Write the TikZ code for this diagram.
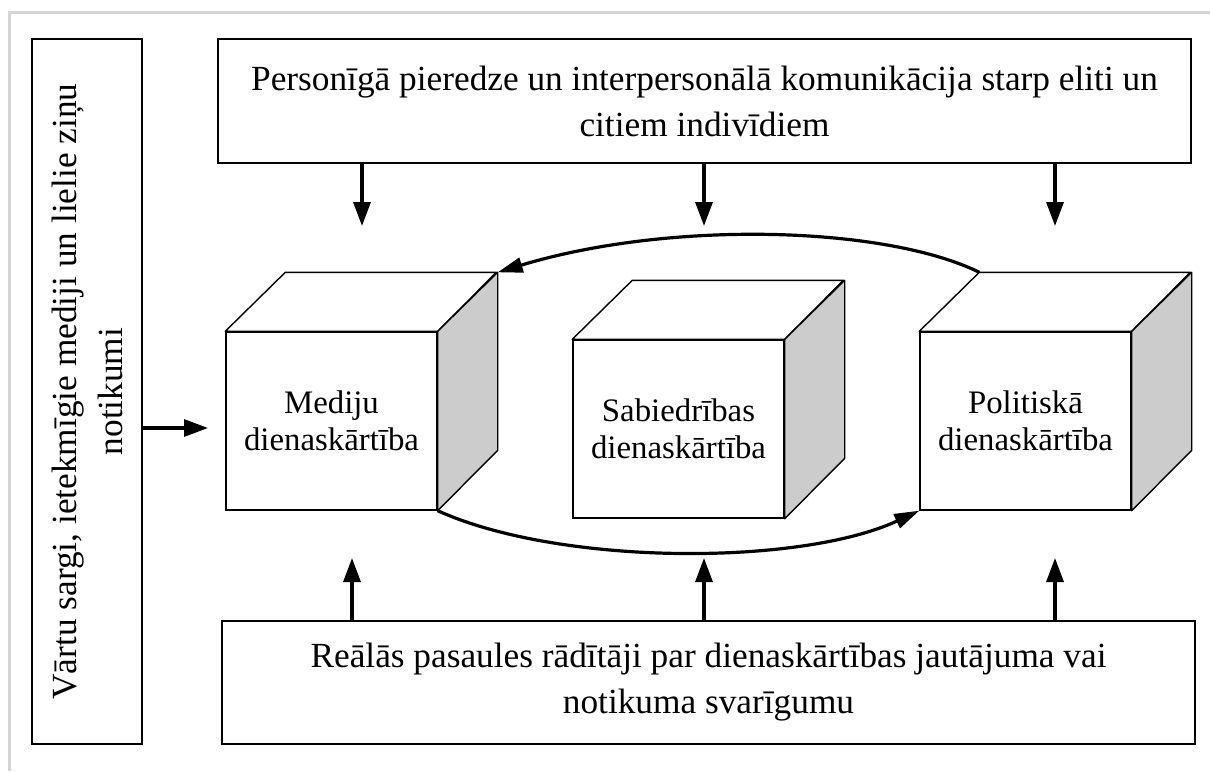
\documentclass[tikz,border=0pt]{standalone}
\usepackage{fontspec}
\setmainfont{Liberation Serif}
\usetikzlibrary{arrows.meta,calc}
\definecolor{sidegray}{HTML}{CCCCCC}
\definecolor{framegray}{HTML}{D4D4D4}
\tikzset{
  boxstyle/.style={draw, line width=1.7pt, inner sep=0pt, align=center,
    font=\fontsize{35.3}{46}\selectfont},
  face/.style={draw, line width=1.4pt, fill=white, minimum width=211pt,
    minimum height=178pt, inner sep=0pt, align=center,
    font=\fontsize{32.8}{37.5}\selectfont},
  topface/.style={draw, line width=1.4pt, fill=white, line join=round},
  sideface/.style={draw, line width=1.4pt, fill=sidegray, line join=round},
  arr/.style={line width=3.2pt, -{Triangle[length=24pt,width=17pt]}},
  curvearr/.style={line width=3.2pt, -{Triangle[length=25pt,width=15pt]}},
}
\begin{document}
\begin{tikzpicture}[x=1pt,y=-1pt]
\useasboundingbox (0,0) rectangle (1210,771);
% page frame
\draw[framegray, line width=3pt] (9,771) -- (9,12) -- (1210,12);

% boxes
\node[boxstyle, minimum width=973pt, minimum height=124pt] (top) at (704.5,101)
  {Personīgā pieredze un interpersonālā komunikācija starp eliti un\\citiem indivīdiem};
\node[boxstyle, minimum width=973pt, minimum height=123pt] (bottom) at (708.5,682.5)
  {Reālās pasaules rādītāji par dienaskārtības jautājuma vai\\notikuma svarīgumu};
\node[draw, line width=1.7pt, minimum width=110pt, minimum height=705pt, inner sep=0pt] (gate) at (87,391.5) {};
\node[rotate=90, align=center, inner sep=0pt, font=\fontsize{35.3}{46}\selectfont] (gatetext) at (gate.center)
  {Vārtu sargi, ietekmīgie mediji un lielie ziņu\\notikumi};

% cubes
\newcommand{\drawcube}[4]{%
  \node[face] (#1) at (#2,#3) {#4};
  \draw[topface] (#1.north west) -- ++(60,-59) -- ++(211,0) -- (#1.north east) -- cycle;
  \draw[sideface] (#1.north east) -- ++(60,-59) -- ++(0,178) -- (#1.south east) -- cycle;
}
\drawcube{med}{331.5}{421}{Mediju\\dienaskārtība}
\drawcube{soc}{678.5}{429}{Sabiedrības\\dienaskārtība}
\drawcube{pol}{1025.5}{421}{Politiskā\\dienaskārtība}

% corner coordinates
\coordinate (medbtr) at ($(med.north east)+(60,-59)$);
\coordinate (polbtl) at ($(pol.north west)+(60,-59)$);

% curves
\draw[curvearr] (polbtl) .. controls (885,226) and (670,220) .. (medbtr);
\draw[curvearr] (med.south east) .. controls (560,566) and (800,566) .. (pol.south west);

% arrows from top box
\coordinate (t1) at (362,226);
\coordinate (t2) at (704,226);
\coordinate (t3) at (1055,226);
\draw[arr] (top.south -| t1) -- (t1);
\draw[arr] (top.south -| t2) -- (t2);
\draw[arr] (top.south -| t3) -- (t3);

% arrows from bottom box
\coordinate (b1) at (352,558);
\coordinate (b2) at (704,558);
\coordinate (b3) at (1055,558);
\draw[arr] (bottom.north -| b1) -- (b1);
\draw[arr] (bottom.north -| b2) -- (b2);
\draw[arr] (bottom.north -| b3) -- (b3);

% arrow from gate box
\coordinate (g1) at (208,428);
\draw[arr] (gate.east |- g1) -- (g1);
\end{tikzpicture}
\end{document}
